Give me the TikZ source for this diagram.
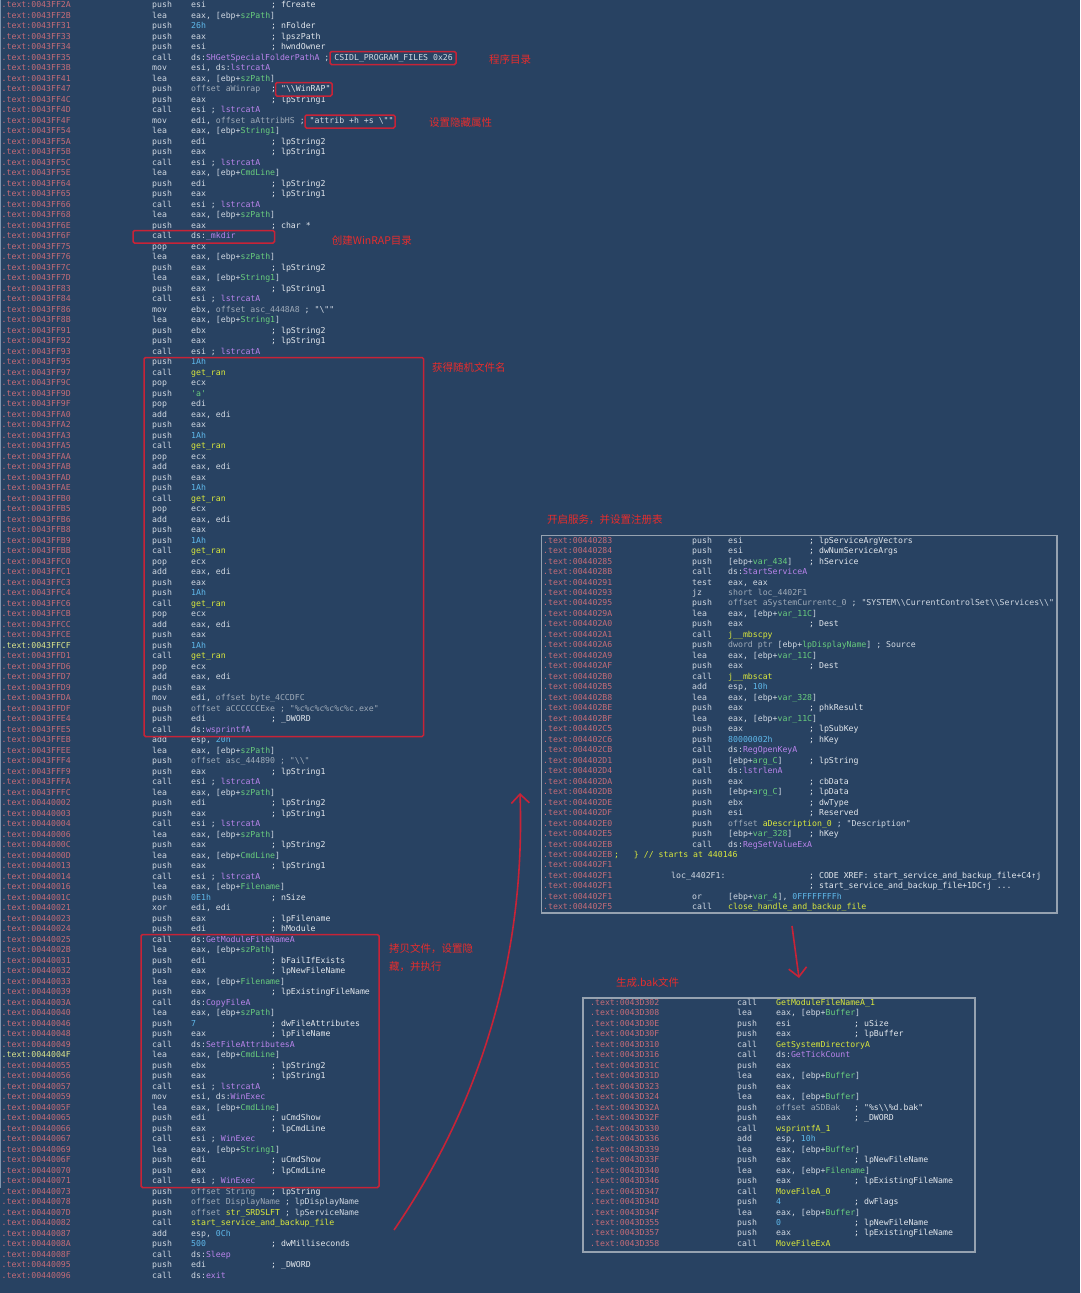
\documentclass[tikz,border=0pt]{standalone}
\usepackage{fontspec}
\setmonofont{DejaVu Sans Mono}
\newfontfamily\cjk{Noto Sans CJK SC}
\usetikzlibrary{arrows.meta}
\definecolor{bg}{RGB}{40,66,98}
\definecolor{cA}{RGB}{196,108,120}
\definecolor{cH}{RGB}{222,230,140}
\definecolor{cT}{RGB}{208,216,226}
\definecolor{cC}{RGB}{226,231,237}
\definecolor{cG}{RGB}{105,205,125}
\definecolor{cP}{RGB}{186,132,236}
\definecolor{cY}{RGB}{218,232,60}
\definecolor{cN}{RGB}{95,185,235}
\definecolor{cD}{RGB}{158,170,184}
\definecolor{cR}{RGB}{200,35,55}
\definecolor{cL}{RGB}{230,45,45}
\definecolor{cB}{RGB}{150,162,176}
\definecolor{cV}{RGB}{130,150,175}
\newcommand\Gn[1]{\textcolor{cG}{#1}}
\newcommand\Pu[1]{\textcolor{cP}{#1}}
\newcommand\Ye[1]{\textcolor{cY}{#1}}
\newcommand\Cy[1]{\textcolor{cN}{#1}}
\newcommand\Dm[1]{\textcolor{cD}{#1}}
\newcommand\BS{\textbackslash}
\tikzset{
 codefont/.style={font=\ttfamily\fontsize{8.2}{9}\selectfont},
 cbase/.style={anchor=west, inner sep=0pt, text height=5.8pt, text depth=1.6pt, codefont},
 addr/.style={cbase, text=cA},
 addrhl/.style={cbase, text=cH},
 mn/.style={cbase, text=cT},
 cmt/.style={cbase, text=cC},
 lab/.style={anchor=west, inner sep=0pt, text=cL, align=left, font=\cjk\fontsize{10.5}{18}\selectfont},
 redbox/.style={draw=cR, line width=1.5pt, rounded corners=1.5pt},
 gbox/.style={draw=cB, line width=1.4pt},
 redarrow/.style={draw=cR, line width=1.6pt, -{Straight Barb[length=9pt,width=18pt,line width=1.6pt]}}
}
\newcommand\codeln[7][addr]{%
  \node[#1] (#2a#3) at (\xA,{\yZ+(#3-1)*\dY}) {.text:#4};
  \node[mn] (#2m#3) at (\xM,{\yZ+(#3-1)*\dY}) {#5};
  \node[mn] (#2o#3) at (\xO,{\yZ+(#3-1)*\dY}) {#6};
  \node[cmt] (#2c#3) at (\xC,{\yZ+(#3-1)*\dY}) {#7};}
\begin{document}
\begin{tikzpicture}[x=1pt,y=-1pt]
\fill[bg] (0,0) rectangle (1080,1293);
\path[use as bounding box] (0,0) rectangle (1080,1293);
\draw[cV, line width=1pt] (0.6,0) -- (0.6,1188);
% ---------------- left listing
\def\xA{1.5}\def\xM{152}\def\xO{191}\def\xC{271}\def\yZ{5.5}\def\dY{10.5}
\codeln{L}{1}{0043FF2A}{push}{esi}{; fCreate}
\codeln{L}{2}{0043FF2B}{lea}{eax, [ebp+\Gn{szPath}]}{}
\codeln{L}{3}{0043FF31}{push}{\Cy{26h}}{; nFolder}
\codeln{L}{4}{0043FF33}{push}{eax}{; lpszPath}
\codeln{L}{5}{0043FF34}{push}{esi}{; hwndOwner}
\codeln{L}{6}{0043FF35}{call}{ds:\Pu{SHGetSpecialFolderPathA} ; CSIDL\_PROGRAM\_FILES 0x26}{}
\codeln{L}{7}{0043FF3B}{mov}{esi, ds:\Pu{lstrcatA}}{}
\codeln{L}{8}{0043FF41}{lea}{eax, [ebp+\Gn{szPath}]}{}
\codeln{L}{9}{0043FF47}{push}{\Dm{offset aWinrap}}{; "\BS\BS WinRAP"}
\codeln{L}{10}{0043FF4C}{push}{eax}{; lpString1}
\codeln{L}{11}{0043FF4D}{call}{esi ; \Pu{lstrcatA}}{}
\codeln{L}{12}{0043FF4F}{mov}{edi, \Dm{offset aAttribHS} ; "attrib +h +s \BS""}{}
\codeln{L}{13}{0043FF54}{lea}{eax, [ebp+\Gn{String1}]}{}
\codeln{L}{14}{0043FF5A}{push}{edi}{; lpString2}
\codeln{L}{15}{0043FF5B}{push}{eax}{; lpString1}
\codeln{L}{16}{0043FF5C}{call}{esi ; \Pu{lstrcatA}}{}
\codeln{L}{17}{0043FF5E}{lea}{eax, [ebp+\Gn{CmdLine}]}{}
\codeln{L}{18}{0043FF64}{push}{edi}{; lpString2}
\codeln{L}{19}{0043FF65}{push}{eax}{; lpString1}
\codeln{L}{20}{0043FF66}{call}{esi ; \Pu{lstrcatA}}{}
\codeln{L}{21}{0043FF68}{lea}{eax, [ebp+\Gn{szPath}]}{}
\codeln{L}{22}{0043FF6E}{push}{eax}{; char *}
\codeln{L}{23}{0043FF6F}{call}{ds:\Pu{\_mkdir}}{}
\codeln{L}{24}{0043FF75}{pop}{ecx}{}
\codeln{L}{25}{0043FF76}{lea}{eax, [ebp+\Gn{szPath}]}{}
\codeln{L}{26}{0043FF7C}{push}{eax}{; lpString2}
\codeln{L}{27}{0043FF7D}{lea}{eax, [ebp+\Gn{String1}]}{}
\codeln{L}{28}{0043FF83}{push}{eax}{; lpString1}
\codeln{L}{29}{0043FF84}{call}{esi ; \Pu{lstrcatA}}{}
\codeln{L}{30}{0043FF86}{mov}{ebx, \Dm{offset asc\_4448A8} ; "\BS""}{}
\codeln{L}{31}{0043FF8B}{lea}{eax, [ebp+\Gn{String1}]}{}
\codeln{L}{32}{0043FF91}{push}{ebx}{; lpString2}
\codeln{L}{33}{0043FF92}{push}{eax}{; lpString1}
\codeln{L}{34}{0043FF93}{call}{esi ; \Pu{lstrcatA}}{}
\codeln{L}{35}{0043FF95}{push}{\Cy{1Ah}}{}
\codeln{L}{36}{0043FF97}{call}{\Ye{get\_ran}}{}
\codeln{L}{37}{0043FF9C}{pop}{ecx}{}
\codeln{L}{38}{0043FF9D}{push}{\Gn{'a'}}{}
\codeln{L}{39}{0043FF9F}{pop}{edi}{}
\codeln{L}{40}{0043FFA0}{add}{eax, edi}{}
\codeln{L}{41}{0043FFA2}{push}{eax}{}
\codeln{L}{42}{0043FFA3}{push}{\Cy{1Ah}}{}
\codeln{L}{43}{0043FFA5}{call}{\Ye{get\_ran}}{}
\codeln{L}{44}{0043FFAA}{pop}{ecx}{}
\codeln{L}{45}{0043FFAB}{add}{eax, edi}{}
\codeln{L}{46}{0043FFAD}{push}{eax}{}
\codeln{L}{47}{0043FFAE}{push}{\Cy{1Ah}}{}
\codeln{L}{48}{0043FFB0}{call}{\Ye{get\_ran}}{}
\codeln{L}{49}{0043FFB5}{pop}{ecx}{}
\codeln{L}{50}{0043FFB6}{add}{eax, edi}{}
\codeln{L}{51}{0043FFB8}{push}{eax}{}
\codeln{L}{52}{0043FFB9}{push}{\Cy{1Ah}}{}
\codeln{L}{53}{0043FFBB}{call}{\Ye{get\_ran}}{}
\codeln{L}{54}{0043FFC0}{pop}{ecx}{}
\codeln{L}{55}{0043FFC1}{add}{eax, edi}{}
\codeln{L}{56}{0043FFC3}{push}{eax}{}
\codeln{L}{57}{0043FFC4}{push}{\Cy{1Ah}}{}
\codeln{L}{58}{0043FFC6}{call}{\Ye{get\_ran}}{}
\codeln{L}{59}{0043FFCB}{pop}{ecx}{}
\codeln{L}{60}{0043FFCC}{add}{eax, edi}{}
\codeln{L}{61}{0043FFCE}{push}{eax}{}
\codeln[addrhl]{L}{62}{0043FFCF}{push}{\Cy{1Ah}}{}
\codeln{L}{63}{0043FFD1}{call}{\Ye{get\_ran}}{}
\codeln{L}{64}{0043FFD6}{pop}{ecx}{}
\codeln{L}{65}{0043FFD7}{add}{eax, edi}{}
\codeln{L}{66}{0043FFD9}{push}{eax}{}
\codeln{L}{67}{0043FFDA}{mov}{edi, \Dm{offset byte\_4CCDFC}}{}
\codeln{L}{68}{0043FFDF}{push}{\Dm{offset aCCCCCCExe ; "\%c\%c\%c\%c\%c\%c.exe"}}{}
\codeln{L}{69}{0043FFE4}{push}{edi}{; \_DWORD}
\codeln{L}{70}{0043FFE5}{call}{ds:\Pu{wsprintfA}}{}
\codeln{L}{71}{0043FFEB}{add}{esp, \Cy{20h}}{}
\codeln{L}{72}{0043FFEE}{lea}{eax, [ebp+\Gn{szPath}]}{}
\codeln{L}{73}{0043FFF4}{push}{\Dm{offset asc\_444890 ; "\BS\BS"}}{}
\codeln{L}{74}{0043FFF9}{push}{eax}{; lpString1}
\codeln{L}{75}{0043FFFA}{call}{esi ; \Pu{lstrcatA}}{}
\codeln{L}{76}{0043FFFC}{lea}{eax, [ebp+\Gn{szPath}]}{}
\codeln{L}{77}{00440002}{push}{edi}{; lpString2}
\codeln{L}{78}{00440003}{push}{eax}{; lpString1}
\codeln{L}{79}{00440004}{call}{esi ; \Pu{lstrcatA}}{}
\codeln{L}{80}{00440006}{lea}{eax, [ebp+\Gn{szPath}]}{}
\codeln{L}{81}{0044000C}{push}{eax}{; lpString2}
\codeln{L}{82}{0044000D}{lea}{eax, [ebp+\Gn{CmdLine}]}{}
\codeln{L}{83}{00440013}{push}{eax}{; lpString1}
\codeln{L}{84}{00440014}{call}{esi ; \Pu{lstrcatA}}{}
\codeln{L}{85}{00440016}{lea}{eax, [ebp+\Gn{Filename}]}{}
\codeln{L}{86}{0044001C}{push}{\Cy{0E1h}}{; nSize}
\codeln{L}{87}{00440021}{xor}{edi, edi}{}
\codeln{L}{88}{00440023}{push}{eax}{; lpFilename}
\codeln{L}{89}{00440024}{push}{edi}{; hModule}
\codeln{L}{90}{00440025}{call}{ds:\Pu{GetModuleFileNameA}}{}
\codeln{L}{91}{0044002B}{lea}{eax, [ebp+\Gn{szPath}]}{}
\codeln{L}{92}{00440031}{push}{edi}{; bFailIfExists}
\codeln{L}{93}{00440032}{push}{eax}{; lpNewFileName}
\codeln{L}{94}{00440033}{lea}{eax, [ebp+\Gn{Filename}]}{}
\codeln{L}{95}{00440039}{push}{eax}{; lpExistingFileName}
\codeln{L}{96}{0044003A}{call}{ds:\Pu{CopyFileA}}{}
\codeln{L}{97}{00440040}{lea}{eax, [ebp+\Gn{szPath}]}{}
\codeln{L}{98}{00440046}{push}{\Cy{7}}{; dwFileAttributes}
\codeln{L}{99}{00440048}{push}{eax}{; lpFileName}
\codeln{L}{100}{00440049}{call}{ds:\Pu{SetFileAttributesA}}{}
\codeln[addrhl]{L}{101}{0044004F}{lea}{eax, [ebp+\Gn{CmdLine}]}{}
\codeln{L}{102}{00440055}{push}{ebx}{; lpString2}
\codeln{L}{103}{00440056}{push}{eax}{; lpString1}
\codeln{L}{104}{00440057}{call}{esi ; \Pu{lstrcatA}}{}
\codeln{L}{105}{00440059}{mov}{esi, ds:\Pu{WinExec}}{}
\codeln{L}{106}{0044005F}{lea}{eax, [ebp+\Gn{CmdLine}]}{}
\codeln{L}{107}{00440065}{push}{edi}{; uCmdShow}
\codeln{L}{108}{00440066}{push}{eax}{; lpCmdLine}
\codeln{L}{109}{00440067}{call}{esi ; \Pu{WinExec}}{}
\codeln{L}{110}{00440069}{lea}{eax, [ebp+\Gn{String1}]}{}
\codeln{L}{111}{0044006F}{push}{edi}{; uCmdShow}
\codeln{L}{112}{00440070}{push}{eax}{; lpCmdLine}
\codeln{L}{113}{00440071}{call}{esi ; \Pu{WinExec}}{}
\codeln{L}{114}{00440073}{push}{\Dm{offset String}}{; lpString}
\codeln{L}{115}{00440078}{push}{\Dm{offset DisplayName} ; lpDisplayName}{}
\codeln{L}{116}{0044007D}{push}{\Dm{offset} \Ye{str\_SRDSLFT} ; lpServiceName}{}
\codeln{L}{117}{00440082}{call}{\Ye{start\_service\_and\_backup\_file}}{}
\codeln{L}{118}{00440087}{add}{esp, \Cy{0Ch}}{}
\codeln{L}{119}{0044008A}{push}{\Cy{500}}{; dwMilliseconds}
\codeln{L}{120}{0044008F}{call}{ds:\Pu{Sleep}}{}
\codeln{L}{121}{00440095}{push}{edi}{; \_DWORD}
\codeln{L}{122}{00440096}{call}{ds:\Pu{exit}}{}
% red boxes, left
\draw[redbox] (330,51.5) rectangle (456,64.5);
\draw[redbox] (275.5,82.5) rectangle (332,96);
\draw[redbox] (305,115) rectangle (395,128);
\draw[redbox] (133,230.5) rectangle (274.5,243);
\draw[redbox] (144,357.5) rectangle (423.6,736.5);
\draw[redbox] (141,934.5) rectangle (379,1187.5);
% labels
\node[lab] (t1) at (489,59) {程序目录};
\node[lab] (t2) at (429,123) {设置隐藏属性};
\node[lab] (t3) at (331.6,241) {创建WinRAP目录};
\node[lab] (t4) at (432,367.5) {获得随机文件名};
\node[lab, anchor=north west] (t5) at (389,943) {拷贝文件，设置隐\\藏，并执行};
\node[lab] (t6) at (547,520) {开启服务，并设置注册表};
\node[lab] (t7) at (616,982) {生成.bak文件};
% ---------------- right listing
\draw[gbox] (541.5,535.5) rectangle (1057,913);
\def\xA{543}\def\xM{692}\def\xO{728}\def\xC{809}\def\yZ{541}\def\dY{10.48}
\codeln{R}{1}{00440283}{push}{esi}{; lpServiceArgVectors}
\codeln{R}{2}{00440284}{push}{esi}{; dwNumServiceArgs}
\codeln{R}{3}{00440285}{push}{[ebp+\Gn{var\_434}]}{; hService}
\codeln{R}{4}{0044028B}{call}{ds:\Pu{StartServiceA}}{}
\codeln{R}{5}{00440291}{test}{eax, eax}{}
\codeln{R}{6}{00440293}{jz}{\Dm{short loc\_4402F1}}{}
\codeln{R}{7}{00440295}{push}{\Dm{offset aSystemCurrentc\_0} ; "SYSTEM\BS\BS CurrentControlSet\BS\BS Services\BS\BS"}{}
\codeln{R}{8}{0044029A}{lea}{eax, [ebp+\Gn{var\_11C}]}{}
\codeln{R}{9}{004402A0}{push}{eax}{; Dest}
\codeln{R}{10}{004402A1}{call}{\Ye{j\_\_mbscpy}}{}
\codeln{R}{11}{004402A6}{push}{\Dm{dword ptr} [ebp+\Gn{lpDisplayName}] ; Source}{}
\codeln{R}{12}{004402A9}{lea}{eax, [ebp+\Gn{var\_11C}]}{}
\codeln{R}{13}{004402AF}{push}{eax}{; Dest}
\codeln{R}{14}{004402B0}{call}{\Ye{j\_\_mbscat}}{}
\codeln{R}{15}{004402B5}{add}{esp, \Cy{10h}}{}
\codeln{R}{16}{004402B8}{lea}{eax, [ebp+\Gn{var\_328}]}{}
\codeln{R}{17}{004402BE}{push}{eax}{; phkResult}
\codeln{R}{18}{004402BF}{lea}{eax, [ebp+\Gn{var\_11C}]}{}
\codeln{R}{19}{004402C5}{push}{eax}{; lpSubKey}
\codeln{R}{20}{004402C6}{push}{\Cy{80000002h}}{; hKey}
\codeln{R}{21}{004402CB}{call}{ds:\Pu{RegOpenKeyA}}{}
\codeln{R}{22}{004402D1}{push}{[ebp+\Gn{arg\_C}]}{; lpString}
\codeln{R}{23}{004402D4}{call}{ds:\Pu{lstrlenA}}{}
\codeln{R}{24}{004402DA}{push}{eax}{; cbData}
\codeln{R}{25}{004402DB}{push}{[ebp+\Gn{arg\_C}]}{; lpData}
\codeln{R}{26}{004402DE}{push}{ebx}{; dwType}
\codeln{R}{27}{004402DF}{push}{esi}{; Reserved}
\codeln{R}{28}{004402E0}{push}{\Dm{offset} \Ye{aDescription\_0} ; "Description"}{}
\codeln{R}{29}{004402E5}{push}{[ebp+\Gn{var\_328}]}{; hKey}
\codeln{R}{30}{004402EB}{call}{ds:\Pu{RegSetValueExA}}{}
\codeln{R}{31}{004402EB}{}{}{}
\codeln{R}{32}{004402F1}{}{}{}
\codeln{R}{33}{004402F1}{}{}{; CODE XREF: start\_service\_and\_backup\_file+C4↑j}
\codeln{R}{34}{004402F1}{}{}{; start\_service\_and\_backup\_file+1DC↑j ...}
\codeln{R}{35}{004402F1}{or}{[ebp+\Gn{var\_4}], \Cy{0FFFFFFFFh}}{}
\codeln{R}{36}{004402F5}{call}{\Ye{close\_handle\_and\_backup\_file}}{}
\node[mn, text=cY] (Rx31) at (614,{541+30*10.48}) {;\ \ \ \} // starts at 440146};
\node[mn] (Rx33) at (671,{541+32*10.48}) {loc\_4402F1:};
% ---------------- lower listing
\draw[gbox] (583,998) rectangle (975,1252);
\def\xA{590}\def\xM{737}\def\xO{776}\def\xC{854}\def\yZ{1003.3}\def\dY{10.48}
\codeln{B}{1}{0043D302}{call}{\Ye{GetModuleFileNameA\_1}}{}
\codeln{B}{2}{0043D308}{lea}{eax, [ebp+\Gn{Buffer}]}{}
\codeln{B}{3}{0043D30E}{push}{esi}{; uSize}
\codeln{B}{4}{0043D30F}{push}{eax}{; lpBuffer}
\codeln{B}{5}{0043D310}{call}{\Ye{GetSystemDirectoryA}}{}
\codeln{B}{6}{0043D316}{call}{ds:\Pu{GetTickCount}}{}
\codeln{B}{7}{0043D31C}{push}{eax}{}
\codeln{B}{8}{0043D31D}{lea}{eax, [ebp+\Gn{Buffer}]}{}
\codeln{B}{9}{0043D323}{push}{eax}{}
\codeln{B}{10}{0043D324}{lea}{eax, [ebp+\Gn{Buffer}]}{}
\codeln{B}{11}{0043D32A}{push}{\Dm{offset aSDBak}}{; "\%s\BS\BS\%d.bak"}
\codeln{B}{12}{0043D32F}{push}{eax}{; \_DWORD}
\codeln{B}{13}{0043D330}{call}{\Ye{wsprintfA\_1}}{}
\codeln{B}{14}{0043D336}{add}{esp, \Cy{10h}}{}
\codeln{B}{15}{0043D339}{lea}{eax, [ebp+\Gn{Buffer}]}{}
\codeln{B}{16}{0043D33F}{push}{eax}{; lpNewFileName}
\codeln{B}{17}{0043D340}{lea}{eax, [ebp+\Gn{Filename}]}{}
\codeln{B}{18}{0043D346}{push}{eax}{; lpExistingFileName}
\codeln{B}{19}{0043D347}{call}{\Ye{MoveFileA\_0}}{}
\codeln{B}{20}{0043D34D}{push}{\Cy{4}}{; dwFlags}
\codeln{B}{21}{0043D34F}{lea}{eax, [ebp+\Gn{Buffer}]}{}
\codeln{B}{22}{0043D355}{push}{\Cy{0}}{; lpNewFileName}
\codeln{B}{23}{0043D357}{push}{eax}{; lpExistingFileName}
\codeln{B}{24}{0043D358}{call}{\Ye{MoveFileExA}}{}
% ---------------- arrows
\coordinate (A1s) at (394,1230);
\coordinate (A1e) at (520,793);
\draw[redarrow] (A1s) .. controls (490,1090) and (525,940) .. (A1e);
\coordinate (A2s) at (792,926);
\coordinate (A2e) at (799,978);
\draw[redarrow] (A2s) -- (A2e);
\end{tikzpicture}
\end{document}
